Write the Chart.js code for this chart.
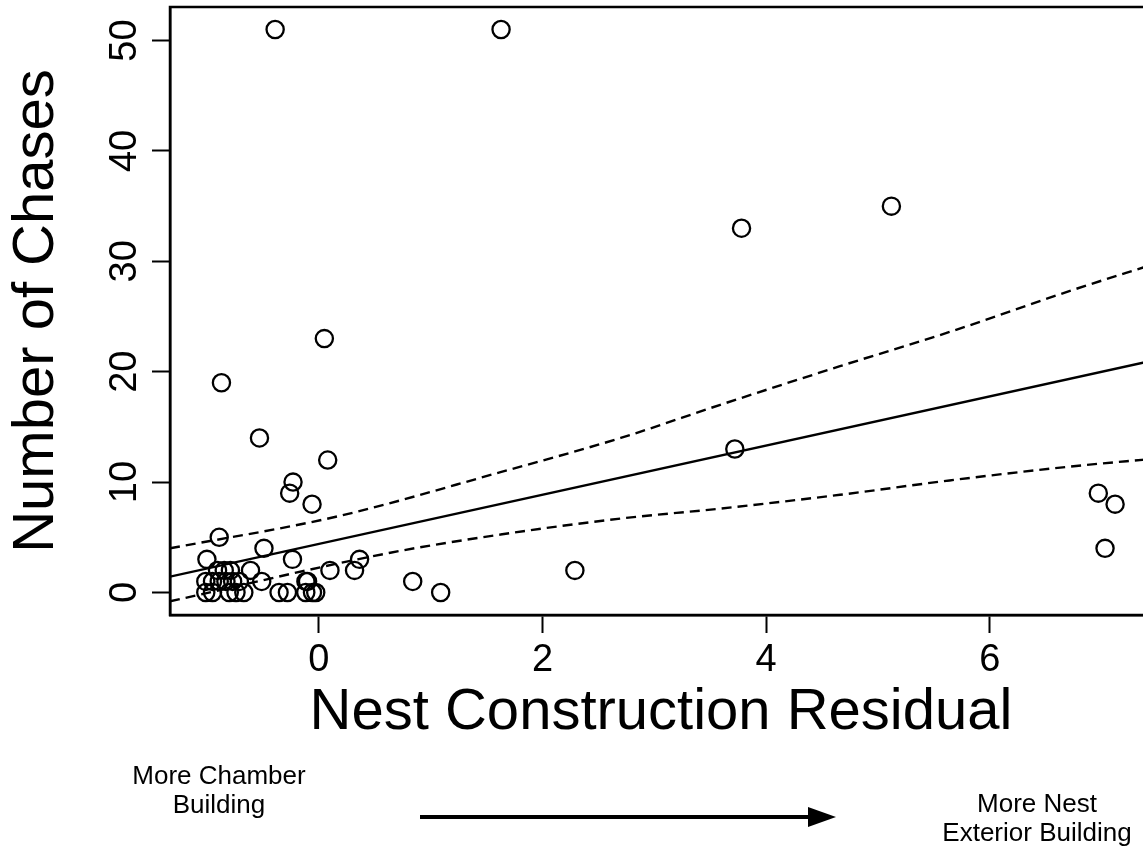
<!DOCTYPE html>
<html>
<head>
<meta charset="utf-8">
<script src="https://cdn.jsdelivr.net/npm/chart.js@4/dist/chart.umd.min.js"></script>
<style>
html,body{margin:0;padding:0;background:#fff;overflow:hidden;}
#wrap{width:1160px;height:851px;}
</style>
</head>
<body>
<div id="wrap"><canvas id="c" width="1160" height="851"></canvas></div>
<script>
// ---- data ----
const ptX = [-0.39, 1.63, 5.12, 3.78, 0.05, -0.87, -0.53, 3.72, 0.08, -0.23, -0.26, -0.06,
  6.97, 7.12, 7.03, -0.89, -0.49, -1.00, -0.235, 0.365, 0.32, 0.10, 2.29, -0.61,
  0.84, 1.09, -0.51, -0.115, -0.10,
  -0.905, -0.845, -0.79,
  -1.01, -0.95, -0.89, -0.83, -0.77, -0.71,
  -1.01, -0.95, -0.80, -0.74, -0.67,
  -0.355, -0.28, -0.116, -0.056, -0.027];
const ptY = [51, 51, 35, 33, 23, 19, 14, 13, 12, 10, 9, 8,
  9, 8, 4, 5, 4, 3, 3, 3, 2, 2, 2, 2,
  1, 0, 1, 1, 1,
  2, 2, 2,
  1, 1, 1, 1, 1, 1,
  0, 0, 0, 0, 0,
  0, 0, 0, 0, 0];
const fitX = [-1.33, 7.45];
const fitY = [1.43, 21.0];
const upX = [-1.33, 0.17, 1.625, 2.70, 3.59, 4.66, 5.64, 6.71, 7.45];
const upY = [4.0, 6.9, 10.9, 14.0, 17.0, 20.5, 23.6, 27.3, 29.7];
const loX = [-1.33, 0.64, 1.625, 2.70, 3.59, 4.66, 5.64, 6.71, 7.45];
const loY = [-0.8, 3.6, 5.25, 6.7, 7.6, 8.85, 10.15, 11.4, 12.1];
const xTicks = [0, 2, 4, 6];
const yTicks = [0, 10, 20, 30, 40, 50];
const xTitle = 'Nest Construction Residual';
const yTitle = 'Number of Chases';
const leftNote = ['More Chamber', 'Building'];
const rightNote = ['More Nest', 'Exterior Building'];

const toPts = (xs, ys) => xs.map((x, i) => ({x: x, y: ys[i]}));
const FONT = '"Liberation Sans", Arial, Helvetica, sans-serif';

const boxAndNotes = {
  id: 'boxAndNotes',
  afterDraw(chart) {
    const {ctx, chartArea: a} = chart;
    ctx.save();
    ctx.strokeStyle = '#000';
    ctx.lineWidth = 2.5;
    ctx.strokeRect(a.left, a.top, a.right - a.left, a.bottom - a.top);
    ctx.fillStyle = '#000';
    ctx.font = '26px ' + FONT;
    ctx.textAlign = 'center';
    ctx.textBaseline = 'middle';
    ctx.fillText(leftNote[0], 219, 777);
    ctx.fillText(leftNote[1], 219, 806);
    ctx.fillText(rightNote[0], 1037, 805);
    ctx.fillText(rightNote[1], 1037, 834);
    // arrow
    ctx.lineWidth = 4;
    ctx.beginPath();
    ctx.moveTo(420, 817);
    ctx.lineTo(812, 817);
    ctx.stroke();
    ctx.beginPath();
    ctx.moveTo(836, 817);
    ctx.lineTo(808, 807);
    ctx.lineTo(808, 827);
    ctx.closePath();
    ctx.fill();
    ctx.restore();
  }
};

new Chart(document.getElementById('c'), {
  type: 'scatter',
  data: {
    datasets: [
      {
        data: toPts(ptX, ptY),
        borderColor: '#000', backgroundColor: 'rgba(0,0,0,0)',
        borderWidth: 2.3, pointRadius: 8.6, pointHoverRadius: 8.6, order: 0
      },
      {
        type: 'line', data: toPts(fitX, fitY), borderColor: '#000', borderWidth: 2.4,
        pointRadius: 0, fill: false, order: 1
      },
      {
        type: 'line', data: toPts(upX, upY), borderColor: '#000', borderWidth: 2.4,
        borderDash: [10, 6], pointRadius: 0, fill: false, cubicInterpolationMode: 'monotone', order: 1
      },
      {
        type: 'line', data: toPts(loX, loY), borderColor: '#000', borderWidth: 2.4,
        borderDash: [10, 6], pointRadius: 0, fill: false, cubicInterpolationMode: 'monotone', order: 1
      }
    ]
  },
  options: {
    responsive: false,
    animation: false,
    devicePixelRatio: 1,
    layout: {autoPadding: false, padding: {left: 0, top: 7, right: 8, bottom: 0}},
    plugins: {legend: {display: false}, tooltip: {enabled: false}},
    scales: {
      x: {
        type: 'linear', min: -1.33, max: 7.45,
        afterBuildTicks: s => { s.ticks = xTicks.map(v => ({value: v})); },
        afterFit: s => { s.height = 236; s.paddingLeft = 0; s.paddingRight = 0; },
        grid: {display: true, drawOnChartArea: false, drawTicks: true, tickLength: 18,
               tickWidth: 2, color: '#000'},
        border: {display: true, color: '#000', width: 2.5},
        ticks: {color: '#000', font: {family: FONT, size: 38}, padding: 5,
                maxRotation: 0, minRotation: 0},
        title: {display: true, text: xTitle, color: '#000',
                font: {family: FONT, size: 58}, padding: {top: 0, bottom: 103}}
      },
      y: {
        type: 'linear', min: -2.04, max: 53.04,
        afterBuildTicks: s => { s.ticks = yTicks.map(v => ({value: v})); },
        afterFit: s => { s.width = 170; s.paddingTop = 0; s.paddingBottom = 0; },
        grid: {display: true, drawOnChartArea: false, drawTicks: true, tickLength: 18,
               tickWidth: 2, color: '#000'},
        border: {display: true, color: '#000', width: 2.5},
        ticks: {color: '#000', font: {family: FONT, size: 38}, padding: 5,
                minRotation: 90, maxRotation: 90, crossAlign: 'center'},
        title: {display: true, text: yTitle, color: '#000',
                font: {family: FONT, size: 58}, padding: {top: 2, bottom: 0}}
      }
    }
  },
  plugins: [boxAndNotes]
});
</script>
</body>
</html>
